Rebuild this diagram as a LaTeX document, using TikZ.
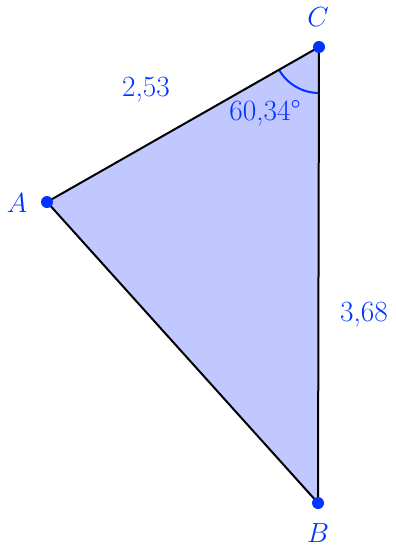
\documentclass[tikz,border=0pt]{standalone}
\usepackage{tikz}
\usetikzlibrary{calc}
\definecolor{ptblue}{HTML}{0033FF}
\definecolor{fillblue}{HTML}{C0C8FF}
\tikzset{
  pt/.style={circle,fill=ptblue,inner sep=0pt,minimum size=9pt},
  lbl/.style={text=ptblue,font=\fontsize{22}{26}\selectfont},
}
\begin{document}
\begin{tikzpicture}[x=0.75pt,y=-0.75pt]
\useasboundingbox (0,0) rectangle (396,546);
\coordinate (A) at (47,202);
\coordinate (B) at (318,503);
\coordinate (C) at (319,47);
\fill[fillblue] (A) -- (B) -- (C) -- cycle;
\draw[ptblue,line width=1.5pt] ($(C)!34.5pt!(A)$) arc[start angle=209.7,end angle=270.1,radius=34.5pt];
\draw[black,line width=1.5pt,line join=round] (A) -- (B) -- (C) -- cycle;
\node[pt] (pA) at (A) {};
\node[pt] (pB) at (B) {};
\node[pt] (pC) at (C) {};
\node[lbl] (lA) at (17,203) {$A$};
\node[lbl] (lB) at (318,533) {$B$};
\node[lbl] (lC) at (318,17) {$C$};
\node[lbl] (lang) at (265,113) {60,34°};
\node[lbl] (lAC) at (146,90) {2,53};
\node[lbl] (lBC) at (364,315) {3,68};
\end{tikzpicture}
\end{document}
